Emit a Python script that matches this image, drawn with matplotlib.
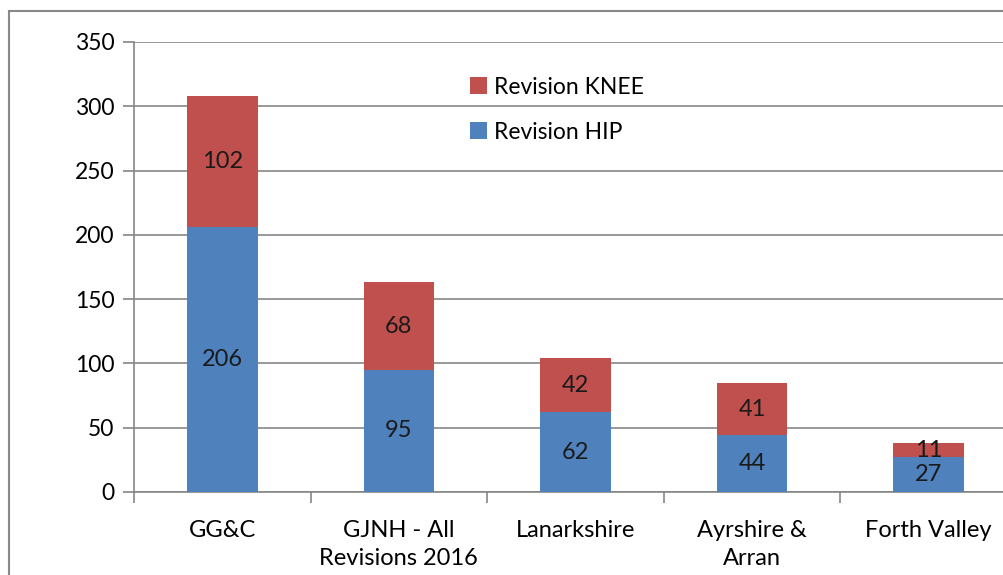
import matplotlib
matplotlib.use("Agg")
import matplotlib.pyplot as plt
import numpy as np
from matplotlib.patches import Rectangle

categories = ["GG&C", "GJNH - All\nRevisions 2016", "Lanarkshire", "Ayrshire &\nArran", "Forth Valley"]
hip = [206, 95, 62, 44, 27]
knee = [102, 68, 42, 41, 11]
series_names = ["Revision HIP", "Revision KNEE"]
yticks = [0, 50, 100, 150, 200, 250, 300, 350]

plt.rcParams['font.family'] = ['Lato', 'DejaVu Sans']
W, H = 1004, 575
fig = plt.figure(figsize=(W/100, H/100), dpi=100)
ax = fig.add_axes([134/W, 1-492/H, (1017-134)/W, (492-42)/H])

blue = "#4F81BD"
red = "#C0504D"
grid = "#868686"
x = np.arange(len(categories))
b1 = ax.bar(x, hip, width=0.4, color=blue, label=series_names[0], zorder=3)
b2 = ax.bar(x, knee, width=0.4, bottom=hip, color=red, label=series_names[1], zorder=3)

for i in range(len(categories)):
    ax.text(x[i], hip[i]/2, str(hip[i]), ha='center', va='center', fontsize=17, color='#1a1a1a', zorder=4)
    ax.text(x[i], hip[i]+knee[i]/2, str(knee[i]), ha='center', va='center', fontsize=17, color='#1a1a1a', zorder=4)

ax.set_xlim(-0.5, len(categories)-0.5)
ax.set_ylim(0, 350)
ax.set_yticks(yticks)
ax.yaxis.grid(True, color=grid, linewidth=1.2, zorder=0)
ax.set_axisbelow(True)
for s in ['top', 'right']:
    ax.spines[s].set_visible(False)
for s in ['left', 'bottom']:
    ax.spines[s].set_color(grid)
    ax.spines[s].set_linewidth(1.2)

ax.set_xticks(x)
ax.set_xticklabels(categories, fontsize=17, linespacing=1.45)
ax.tick_params(axis='x', which='major', length=0, pad=20)
ax.set_xticks(np.arange(len(categories)+1)-0.5, minor=True)
ax.tick_params(axis='x', which='minor', length=8, color=grid, width=1.2, direction='out')
ax.tick_params(axis='y', length=8, color=grid, width=1.2, labelsize=16.5, pad=6)

handles = [b2, b1]
ax.legend(handles, [series_names[1], series_names[0]], loc='upper left',
          bbox_to_anchor=((449-134)/(1017-134), 1-(56-42)/(492-42)),
          frameon=False, fontsize=16.5, handlelength=0.75, handleheight=0.75,
          handletextpad=0.3, labelspacing=1.05)

fig.add_artist(Rectangle((9/W, -0.5), 2, 1.5 - 11/H + 0.0, transform=fig.transFigure,
                         fill=False, edgecolor="#888888", linewidth=1.5, clip_on=False))

fig.savefig("out.png", dpi=100)
